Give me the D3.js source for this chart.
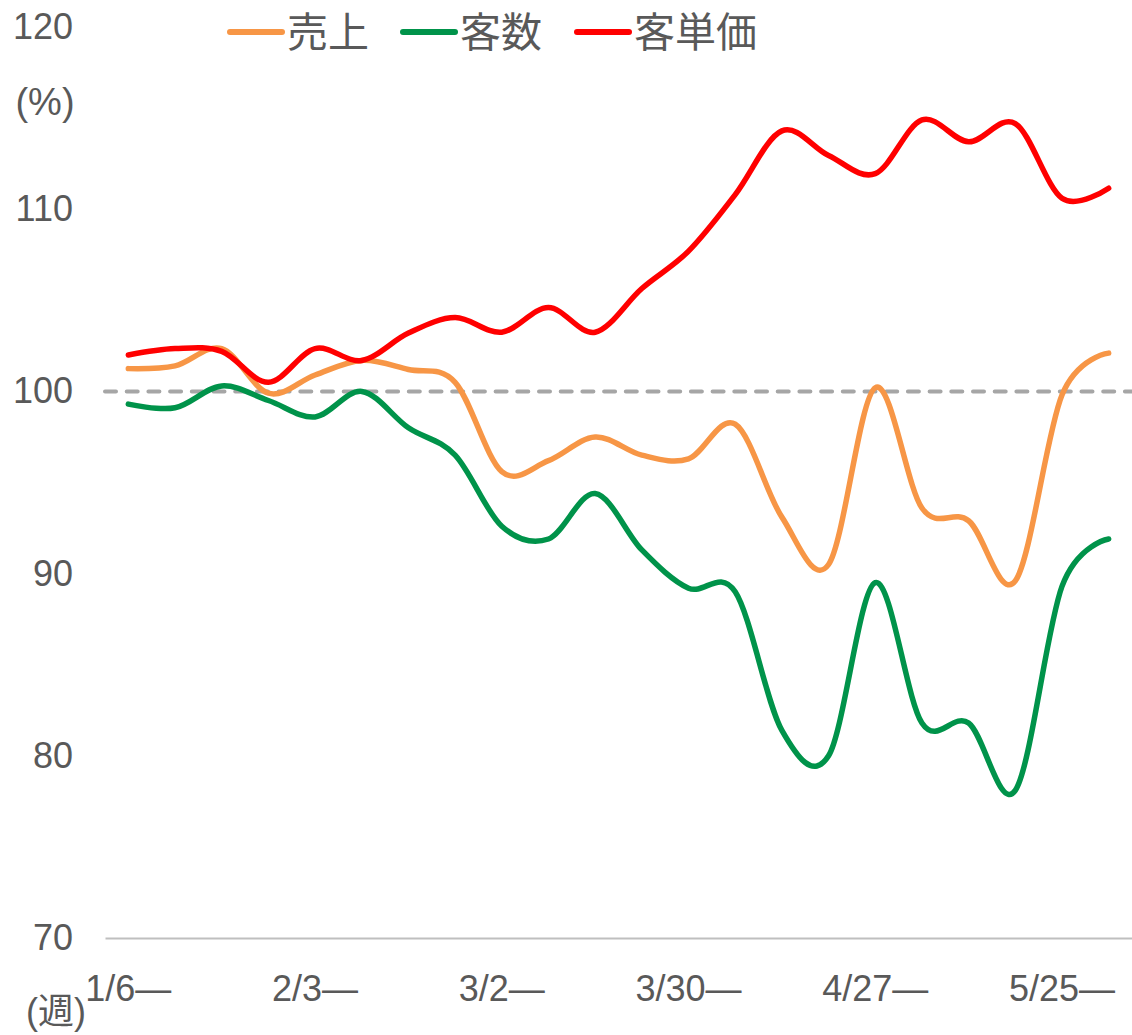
<!DOCTYPE html>
<html>
<head>
<meta charset="utf-8">
<script src="https://cdn.jsdelivr.net/npm/d3@7"></script>
<style>
  body { margin: 0; background: #fff; }
  text { font-family: "Liberation Sans", Arial, "Noto Sans CJK JP", sans-serif; fill: #595959; }
</style>
</head>
<body>
<div id="viz"></div>
<script>
// weekly categories (week starting)
const weeks = ["1/6", "1/13", "1/20", "1/27", "2/3", "2/10", "2/17", "2/24", "3/2", "3/9", "3/16",
  "3/23", "3/30", "4/6", "4/13", "4/20", "4/27", "5/4", "5/11", "5/18", "5/25", "6/1"]

// shown x labels
const weekLabels = ["1/6", "2/3", "3/2", "3/30", "4/27", "5/25"]

// 売上 (%)
const sales = [101.25, 101.4, 102.35, 99.9, 100.9, 101.7, 101.2, 100.5, 95.6, 96.2, 97.5,
  96.5, 96.3, 98.2, 93.1, 90.5, 100.2, 93.6, 92.9, 89.6, 99.8, 102.1]

// 客数 (%)
const customers = [99.3, 99.1, 100.3, 99.5, 98.6, 100.0, 98.0, 96.5, 92.6, 91.9, 94.4,
  91.3, 89.2, 89.0, 81.4, 80.0, 89.5, 81.8, 81.8, 78.1, 89.3, 91.9]

// 客単価 (%)
const unitPrice = [102.0, 102.35, 102.2, 100.5, 102.35, 101.7, 103.2, 104.05, 103.25, 104.6, 103.25,
  105.65, 107.7, 110.8, 114.3, 112.95, 111.95, 114.9, 113.7, 114.7, 110.6, 111.15]

const yTicks = [70, 80, 90, 100, 110, 120]

const seriesNames = ["売上", "客数", "客単価"]
const seriesColors = ["#F79646", "#00934A", "#FF0000"]

document.addEventListener("DOMContentLoaded", () => {

  const width = 1132
  const height = 1035

  const svg = d3.select("#viz").append("svg")
    .attr("width", width)
    .attr("height", height)

  const x = d3.scaleBand()
    .domain(weeks)
    .range([105, 1132])

  const y = d3.scaleLinear()
    .domain([70, 120])
    .range([938, 27])

  const xc = d => x(d) + x.bandwidth() / 2

  // y axis labels, no line
  const yAxis = svg.append("g")
    .attr("transform", "translate(73,0)")
    .call(d3.axisLeft(y).tickValues(yTicks).tickSize(0).tickPadding(0))
  yAxis.select(".domain").remove()
  yAxis.selectAll("text")
    .style("font-size", "36px")
    .attr("fill", "#595959")

  // category axis
  const xAxis = svg.append("g")
    .attr("transform", `translate(0,${y(70)})`)
    .call(d3.axisBottom(x).tickValues(weekLabels).tickSize(0).tickPadding(0)
      .tickFormat(d => d + "—"))
  xAxis.select(".domain")
    .attr("stroke", "#BFBFBF")
    .attr("stroke-width", 2)
  xAxis.selectAll("text")
    .attr("dy", null)
    .attr("y", 63)
    .style("font-size", "36px")
    .attr("fill", "#595959")

  // 100% reference
  svg.append("line")
    .attr("x1", 105)
    .attr("x2", 1132)
    .attr("y1", y(100))
    .attr("y2", y(100))
    .attr("stroke", "#A6A6A6")
    .attr("stroke-width", 4)
    .attr("stroke-linecap", "round")
    .attr("stroke-dasharray", "11,10.7")

  const line = d3.line()
    .x((d, i) => xc(weeks[i]))
    .y(d => y(d))
    .curve(d3.curveCatmullRom.alpha(0))

  const series = [sales, customers, unitPrice]

  svg.selectAll("path.series")
    .data(series)
    .enter()
    .append("path")
    .attr("class", "series")
    .attr("d", d => line(d))
    .attr("fill", "none")
    .attr("stroke", (d, i) => seriesColors[i])
    .attr("stroke-width", 5.5)
    .attr("stroke-linecap", "round")
    .attr("stroke-linejoin", "round")

  // legend
  const legendX = [228, 401, 575]
  const legend = svg.selectAll("g.legend")
    .data(seriesNames)
    .enter()
    .append("g")
    .attr("class", "legend")
    .attr("transform", (d, i) => `translate(${legendX[i]},32)`)

  legend.append("line")
    .attr("x1", 2)
    .attr("x2", 54)
    .attr("stroke", (d, i) => seriesColors[i])
    .attr("stroke-width", 6)
    .attr("stroke-linecap", "round")

  legend.append("text")
    .attr("x", 59)
    .attr("dy", "0.36em")
    .style("font-size", "41px")
    .text(d => d)

  // unit labels
  svg.append("text")
    .attr("x", 45)
    .attr("y", 101)
    .attr("dy", "0.36em")
    .attr("text-anchor", "middle")
    .style("font-size", "38px")
    .text("(%)")

  svg.append("text")
    .attr("x", 56)
    .attr("y", 1011)
    .attr("dy", "0.36em")
    .attr("text-anchor", "middle")
    .style("font-size", "36px")
    .text("(週)")

})
</script>
</body>
</html>
